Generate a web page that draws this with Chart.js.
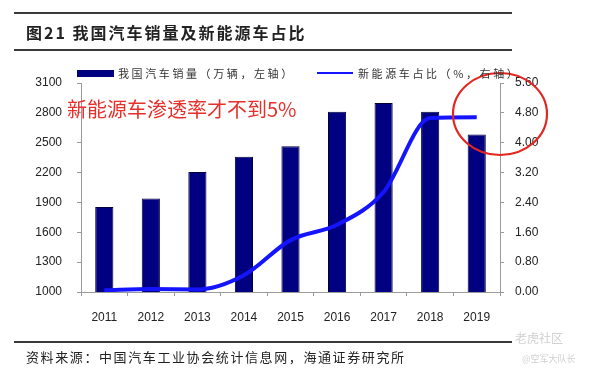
<!DOCTYPE html>
<html>
<head>
<meta charset="utf-8">
<script src="https://cdn.jsdelivr.net/npm/chart.js@4/dist/chart.umd.min.js"></script>
<style>
    html, body { margin: 0; padding: 0; background: #fff; }
    #wrap { position: relative; width: 591px; height: 375px; overflow: hidden; }
    #wrap canvas { position: absolute; left: 0; top: 0; }
    .rule { position: absolute; left: 14px; width: 498px; height: 2px; background: #3a3a3a; }
    .txt { position: absolute; white-space: nowrap; font-family: "Noto Sans CJK SC", sans-serif; }
</style>
</head>
<body>
<div id="wrap">
    <canvas id="c" width="591" height="375"></canvas>
    <div class="rule" style="top:12px"></div>
    <div class="rule" style="top:49px"></div>
    <div class="rule" style="top:341px; height:1.5px"></div>
    <div class="txt" style="left:26px; top:20px; font-size:16px; font-weight:bold; color:#222; letter-spacing:2px;">图21 我国汽车销量及新能源车占比</div>

    <!-- legend -->
    <div style="position:absolute; left:77px; top:70px; width:37px; height:7px; background:#000080;"></div>
    <div class="txt" style="left:118px; top:65px; font-size:11px; color:#333; letter-spacing:2.6px;">我国汽车销量（万辆，左轴）</div>
    <div style="position:absolute; left:317px; top:72px; width:36px; height:2px; background:#1414ff;"></div>
    <div class="txt" style="left:358px; top:65px; font-size:11px; color:#333; letter-spacing:2.6px;">新能源车占比（%，右轴）</div>

    <div class="txt" style="left:67px; top:94px; font-size:20px; color:#e5312c;">新能源车渗透率才不到5%</div>

    <div class="txt" style="left:26px; top:347px; font-size:13px; color:#222; letter-spacing:1.6px;">资料来源：中国汽车工业协会统计信息网，海通证券研究所</div>
    <div class="txt" style="left:515px; top:329px; font-size:12px; color:#d0d0d0;">老虎社区</div>
    <div class="txt" style="left:522px; top:352px; font-size:9px; color:#d0d0d0;">@空军大队长</div>
</div>
<script>
const years = ['2011', '2012', '2013', '2014', '2015', '2016', '2017', '2018', '2019'];
// 汽车销量（万辆）
const carSales = [1855, 1940, 2205, 2360, 2465, 2812, 2898, 2812, 2582];
// 新能源车占比（%）
const nevShare = [0.05, 0.08, 0.07, 0.45, 1.39, 1.8, 2.68, 4.66, 4.68];

const tickFont = { family: '"Liberation Sans", Arial, sans-serif', size: 12 };

// red hand-drawn ring round the last point
const ringPlugin = {
    id: 'ring',
    afterDatasetsDraw(chart) {
        const ctx = chart.ctx;
        ctx.save();
        ctx.strokeStyle = '#e3261f';
        ctx.lineWidth = 2.2;
        ctx.beginPath();
        ctx.ellipse(500, 114, 47, 41, 0, 0, Math.PI * 2);
        ctx.stroke();
        ctx.restore();
    },
};

new Chart(document.getElementById('c'), {
    data: {
        labels: years,
        datasets: [
            {
                type: 'line',
                label: '新能源车占比（%，右轴）',
                data: nevShare,
                yAxisID: 'y1',
                borderColor: '#1414ff',
                borderWidth: 4,
                pointRadius: 0,
                cubicInterpolationMode: 'monotone',
                order: 0,
            },
            {
                type: 'bar',
                label: '我国汽车销量（万辆，左轴）',
                data: carSales,
                yAxisID: 'y',
                backgroundColor: '#000080',
                borderColor: '#00003a',
                borderWidth: 1,
                categoryPercentage: 1,
                barPercentage: 0.39,
                order: 1,
            },
        ],
    },
    options: {
        responsive: false,
        animation: false,
        layout: { padding: { top: 83, left: 0, right: 0, bottom: 0 } },
        plugins: {
            legend: { display: false },
            tooltip: { enabled: false },
        },
        scales: {
            x: {
                offset: true,
                afterFit: (s) => { s.height = 83; },
                border: { display: true, color: '#9a9a9a' },
                grid: { offset: true, drawOnChartArea: false, tickLength: 4, color: '#9a9a9a' },
                ticks: { color: '#222', font: tickFont, padding: 14, maxRotation: 0 },
            },
            y: {
                position: 'left',
                min: 1000,
                max: 3100,
                afterFit: (s) => { s.width = 81; },
                border: { display: true, color: '#9a9a9a' },
                grid: { drawOnChartArea: false, tickLength: 4, color: '#9a9a9a' },
                ticks: {
                    stepSize: 300,
                    color: '#222',
                    font: tickFont,
                    padding: 15,
                    callback: (v) => String(v),
                },
            },
            y1: {
                position: 'right',
                min: 0,
                max: 5.6,
                afterFit: (s) => { s.width = 91; },
                border: { display: true, color: '#9a9a9a' },
                grid: { drawOnChartArea: false, tickLength: 4, color: '#9a9a9a' },
                ticks: {
                    stepSize: 0.8,
                    color: '#222',
                    font: tickFont,
                    padding: 11,
                    callback: (v) => Number(v).toFixed(2),
                },
            },
        },
    },
    plugins: [ringPlugin],
});
</script>
</body>
</html>
